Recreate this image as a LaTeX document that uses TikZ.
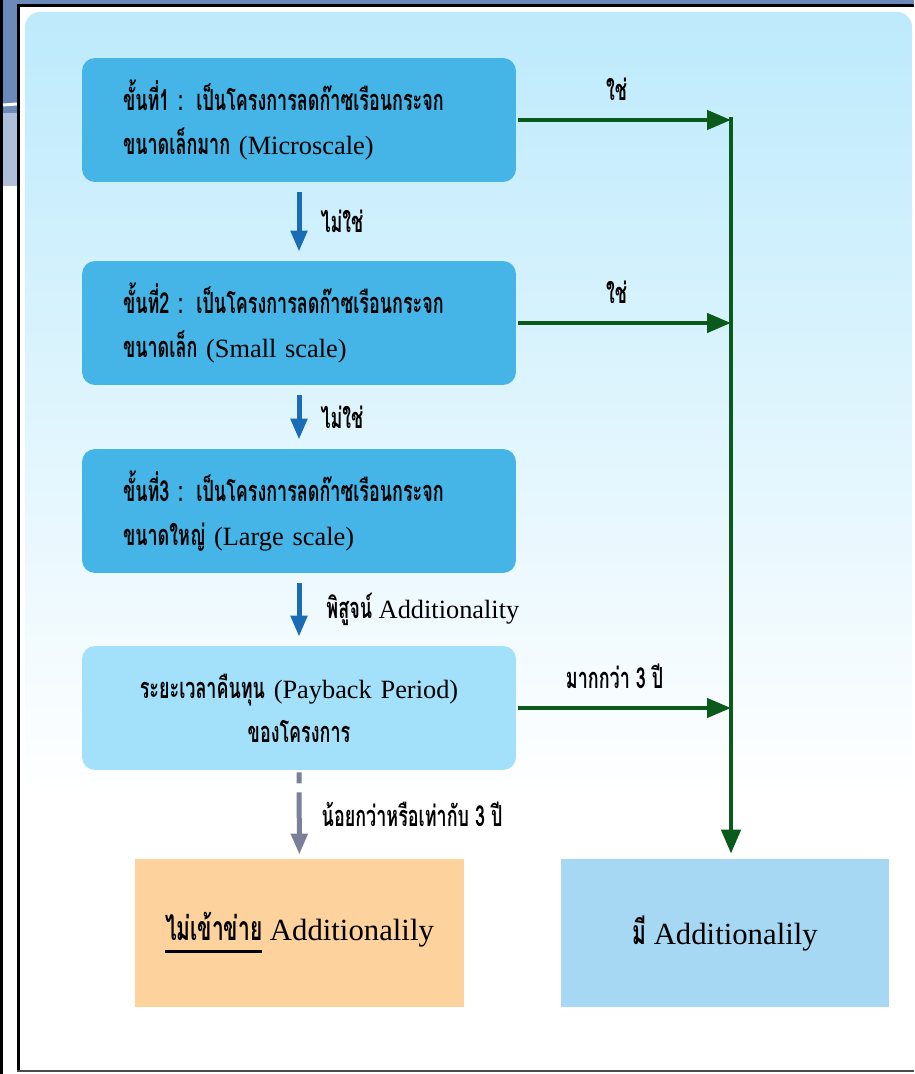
\documentclass[tikz,border=0pt]{standalone}
\usepackage{fontspec}
\setmainfont{Liberation Serif}
\newfontfamily\thaifont[Script=Thai,FakeStretch=0.62,Scale=1.1]{Loma}
\usetikzlibrary{arrows.meta,positioning}
\definecolor{slide}{RGB}{107,138,186}
\definecolor{panel}{RGB}{189,234,252}
\definecolor{stepfill}{RGB}{68,181,230}
\definecolor{payfill}{RGB}{163,225,250}
\definecolor{nofill}{RGB}{253,210,156}
\definecolor{yesfill}{RGB}{166,216,244}
\definecolor{downblue}{RGB}{26,109,180}
\definecolor{yesgreen}{RGB}{10,90,28}
\definecolor{dashgray}{RGB}{123,127,155}
\newcommand{\thtxt}[1]{\mbox{\thaifont\bfseries #1}}
\newcommand{\thickul}[1]{\setbox0\hbox{#1}\rlap{\raisebox{-7pt}{\rule{\wd0}{1.8pt}}}\box0{}}
\tikzset{stepbox/.style={fill=stepfill,rounded corners=0.26cm,minimum width=8.68cm,minimum height=2.48cm,
    inner xsep=0.82cm,text width=7.04cm,align=left,font=\fontsize{15}{25}\selectfont},
  paybox/.style={stepbox,fill=payfill,align=center},
  endbox/.style={minimum width=6.58cm,minimum height=2.96cm,font=\fontsize{17.5}{22}\selectfont},
  down/.style={-{Triangle[length=0.42cm,width=0.32cm]},line width=0.1cm,downblue,shorten <=0.2cm,shorten >=0.18cm},
  yes/.style={-{Triangle[length=0.48cm,width=0.38cm]},line width=0.09cm,yesgreen},
  lbl/.style={font=\fontsize{15}{18}\selectfont,text=black,inner sep=0pt}}

\begin{document}
\begin{tikzpicture}[x=0.02cm,y=-0.02cm]
\useasboundingbox (0,0) rectangle (914,1074);
% slide frame
\fill[white] (0,0) rectangle (914,1074);
\fill[slide] (0,0) rectangle (914,4);
\fill[slide] (0,0) rectangle (17,113);
\fill[slide!55!white] (3,113) rectangle (17,186);
\fill[black] (0,0) rectangle (3,1074);
\draw[white,line width=0.06cm] (3,105) -- (17,104);
\fill[black] (17,4) rectangle (914,7);
\fill[black] (17,4) rectangle (20,1072);
\fill[black!70] (17,1070) rectangle (914,1072);
\shade[top color=panel,middle color=panel!75!white,bottom color=white,rounded corners=0.3cm]
  (25,12) rectangle (912,795);

% steps
\node[stepbox] (step1) at (299,120) {\thtxt{ขั้นที่1 : เป็นโครงการลดก๊าซเรือนกระจก}\\\thtxt{ขนาดเล็กมาก} (Microscale)};
\node[stepbox] (step2) at (299,323) {\thtxt{ขั้นที่2 : เป็นโครงการลดก๊าซเรือนกระจก}\\\thtxt{ขนาดเล็ก} (Small scale)};
\node[stepbox] (step3) at (299,511) {\thtxt{ขั้นที่3 : เป็นโครงการลดก๊าซเรือนกระจก}\\\thtxt{ขนาดใหญ่} (Large scale)};
\node[paybox] (payback) at (299,708) {\thtxt{ระยะเวลาคืนทุน} (Payback Period)\\\thtxt{ของโครงการ}};
\node[endbox,fill=nofill] (notadd) at (299.5,933) {\thickul{\thtxt{ไม่เข้าข่าย}} Additionalily};
\node[endbox,fill=yesfill] (hasadd) at (725,933) {\thtxt{มี} Additionalily};

% downward flow
\draw[down] (step1) -- node[lbl,right=0.38cm]{\thtxt{ไม่ใช่}} (step2);
\draw[down] (step2) -- node[lbl,right=0.38cm]{\thtxt{ไม่ใช่}} (step3);
\draw[down] (step3) -- node[lbl,right=0.5cm]{\thtxt{พิสูจน์} Additionality} (payback);
\draw[down,dashgray,shorten <=0.04cm,shorten >=0.08cm,dash pattern=on 0.22cm off 0.18cm on 3cm off 0cm]
  (payback) -- node[lbl,right=0.4cm]{\thtxt{น้อยกว่าหรือเท่ากับ 3 ปี}} (notadd);

% yes branch
\coordinate (bus) at (731,117);
\draw[yes] ([xshift=0.04cm]step1.east) -- node[lbl,above=0.34cm,xshift=-0.16cm]{\thtxt{ใช่}} (step1.east -| bus);
\draw[yes] ([xshift=0.04cm]step2.east) -- node[lbl,above=0.34cm,xshift=-0.16cm]{\thtxt{ใช่}} (step2.east -| bus);
\draw[yes] ([xshift=0.04cm]payback.east) -- node[lbl,above=0.34cm,xshift=-0.2cm]{\thtxt{มากกว่า 3 ปี}} (payback.east -| bus);
\draw[yes] (bus) -- ([yshift=0.1cm]bus |- hasadd.north);
\end{tikzpicture}
\end{document}
